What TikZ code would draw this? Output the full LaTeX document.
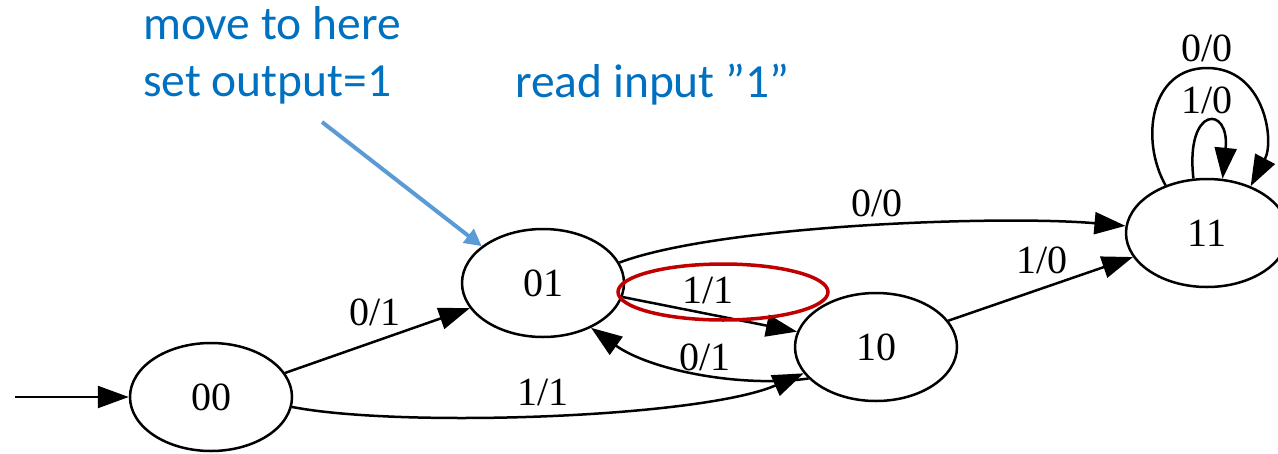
\documentclass[tikz,border=0pt]{standalone}
\usepackage{fontspec}
\setmainfont{Liberation Serif}
\newfontfamily\notefont{Carlito}
\usetikzlibrary{arrows.meta,shapes.geometric}
\definecolor{noteblue}{HTML}{0070C0}
\definecolor{pointerblue}{HTML}{5B9BD5}
\definecolor{markred}{HTML}{C00000}
\begin{document}
\begin{tikzpicture}[x=1pt,y=-1pt,
  state/.style={ellipse,draw,line width=2.5pt,minimum width=162pt,minimum height=108pt,
    inner sep=0pt,font=\fontsize{40}{42}\selectfont},
  trans/.style={line width=2.5pt,-{Triangle[length=31pt,width=22pt]}},
  lbl/.style={font=\fontsize{40}{42}\selectfont,inner sep=0pt},
  note/.style={text=noteblue,font=\notefont\fontsize{47.5}{57}\selectfont,inner sep=0pt,align=left}]
\useasboundingbox (0,0) rectangle (1278,453);

% states
\node[state] (n00) at (211,397) {00};
\node[state] (n01) at (543,283) {01};
\node[state] (n10) at (876,347) {10};
\node[state] (n11) at (1207,233) {11};

% initial arrow
\coordinate (start) at (15,397);
\draw[trans] (start) -- (n00.west);

% transitions
\draw[trans] (n00.18.7) -- (n01.199);
\draw[trans] (n00.-7.7) .. controls (400,428) and (700,418) .. (n10.200);
\draw[trans] (n01.15.3) .. controls (720,225) and (1000,215) .. (n11.175);
\draw[trans] (n01.-10) -- (n10.169);
\draw[trans] (n10.205) .. controls (740,388) and (650,370) .. (n01.-43);
\draw[trans] (n10.20) -- (n11.198);
\draw[trans] (n11.131) .. controls (1140,140) and (1150,68) .. (1207,68)
  .. controls (1264,68) and (1275,140) .. (n11.47);
\draw[trans] (n11.104) .. controls (1185,105) and (1230,105) .. (n11.74);

% transition labels
\node[lbl] (l0001) at (375,312) {0/1};
\node[lbl] (l0010) at (543,392) {1/1};
\node[lbl] (l0111) at (877,203) {0/0};
\node[lbl] (l0110) at (708,290) {1/1};
\node[lbl] (l1001) at (705,357) {0/1};
\node[lbl] (l1011) at (1042,260) {1/0};
\node[lbl] (l11a) at (1207,48) {0/0};
\node[lbl] (l11b) at (1207,100) {1/0};

% highlight of the 1/1 transition
\node[ellipse,draw=markred,line width=3.5pt,minimum width=210pt,minimum height=56pt] (mark) at (723,292) {};

% annotations (base anchor of a two-line note is its last line)
\node[note,anchor=base west] (move) at (143,96) {move to here\\set output=1};
\node[note,anchor=base west] (read) at (515,97) {read input ”1”};
\coordinate (ptr) at (322,122);
\draw[pointerblue,line width=4pt,-{Triangle[length=17pt,width=17pt]}] (ptr) -- (n01.149);
\end{tikzpicture}
\end{document}
